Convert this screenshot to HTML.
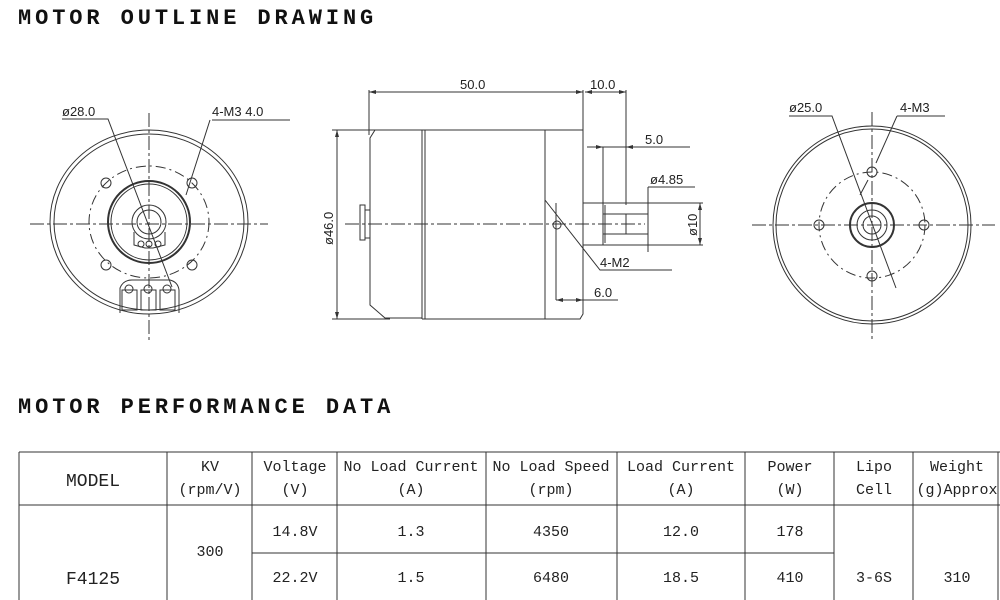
<!DOCTYPE html>
<html><head><meta charset="utf-8"><style>
body{margin:0;background:#fff;width:1000px;height:600px;overflow:hidden;}
svg{display:block}
.t{font-family:"Liberation Mono",monospace;font-weight:bold;font-size:22px;fill:#111}
.d{font-family:"Liberation Sans",sans-serif;font-size:13px;fill:#222}
.c{font-family:"Liberation Mono","Noto Serif CJK SC",monospace;font-size:15px;fill:#222;text-anchor:middle}
</style></head><body>
<svg width="1000" height="600" viewBox="0 0 1000 600" xmlns="http://www.w3.org/2000/svg">
<text class="t" x="18" y="24" letter-spacing="3.9">MOTOR OUTLINE DRAWING</text>
<text class="t" x="18" y="413" letter-spacing="3.9">MOTOR PERFORMANCE DATA</text>

<g fill="none" stroke="#333" stroke-width="1">
<ellipse cx="149" cy="222" rx="99" ry="92"/>
<ellipse cx="149" cy="222" rx="95" ry="88"/>
<ellipse cx="149" cy="222" rx="60" ry="56" stroke-dasharray="10,4,2,4"/>
<circle cx="149" cy="222" r="41" stroke-width="2"/>
<circle cx="149" cy="222" r="38"/>
<circle cx="149" cy="222" r="17"/>
<circle cx="149" cy="222" r="12"/>
<path d="M134 232 L134 245 L145 248 L153 248 L165 245 L165 232"/>
<circle cx="141" cy="244" r="3"/><circle cx="158" cy="244" r="3"/><circle cx="149" cy="244" r="3"/>
<circle cx="106" cy="183" r="5"/><circle cx="192" cy="183" r="5"/>
<circle cx="106" cy="265" r="5"/><circle cx="192" cy="265" r="5"/>
<path d="M120 313 L120 288 Q123 280 132 280 L170 280 Q178 282 179 290 L179 313"/>
<rect x="122" y="290" width="15" height="20"/><rect x="141" y="290" width="15" height="20"/><rect x="160" y="290" width="15" height="20"/>
<circle cx="129" cy="289" r="4"/><circle cx="148" cy="289" r="4"/><circle cx="167" cy="289" r="4"/>
<path d="M30 224 H268 M149 113 V342" stroke-dasharray="14,3,3,3"/>
<path d="M62 119 H108 L172 287"/>
<path d="M212 120 H290 M210 120 L186 195"/>

<path d="M332 130 H400 M332 319 H390"/>
<path d="M337 130 V319"/>
<path d="M369 90 V135 M583 90 V130 M626 90 V205"/>
<path d="M369 92 H583 M585 92 H626"/>
<path d="M375 130 H583 V314 L580 319 H422 M375 130 L370 138 V305 L385 318 H422"/>
<path d="M422 130 V319 M425 130 V319 M545 130 V319"/>
<path d="M360 205 H365 V240 H360 Z M365 210 H370 V238 H365"/>
<path d="M583 203 H603 V245 H583"/>
<path d="M603 203 H648 V245 H603 M605 205 V243 M626 214 V234 M603 214 H648 M603 234 H648"/>
<path d="M587 147 H690 M603 147 V203"/>
<path d="M648 187 H695 M648 187 V252"/>
<path d="M648 203 H703 M648 245 H703 M700 203 V245"/>
<path d="M556 203 V300 M556 300 H618"/>
<path d="M545 200 L600 270 H672"/>
<path d="M345 224 H645" stroke-dasharray="14,3,3,3"/>
<circle cx="557" cy="225" r="4"/>

<circle cx="872" cy="225" r="99"/>
<circle cx="872" cy="225" r="96"/>
<circle cx="872" cy="225" r="53" stroke-dasharray="10,4,2,4"/>
<circle cx="872" cy="225" r="22" stroke-width="2"/>
<circle cx="872" cy="225" r="15"/>
<circle cx="872" cy="225" r="9"/>
<circle cx="872" cy="172" r="5"/><circle cx="872" cy="276" r="5"/>
<circle cx="819" cy="225" r="5"/><circle cx="924" cy="225" r="5"/>
<path d="M752 225 H995 M872 112 V340" stroke-dasharray="14,3,3,3"/>
<path d="M789 116 H832 L896 288"/>
<path d="M897 116 H945 M897 116 L876 163 M868 180 L860 195"/>
</g>
<g fill="#333">
<path d="M369 92 l7 -2 v4z M583 92 l-7 -2 v4z M585 92 l7 -2 v4z M626 92 l-7 -2 v4z"/>
<path d="M337 130 l-2 7 h4z M337 319 l-2 -7 h4z"/>
<path d="M603 147 l-7 -2 v4z M626 147 l7 -2 v4z"/>
<path d="M556 300 l7 -2 v4z M583 300 l-7 -2 v4z"/>
<path d="M700 203 l-2 7 h4z M700 245 l-2 -7 h4z"/>
</g>
<text class="d" x="62" y="116">ø28.0</text>
<text class="d" x="212" y="116">4-M3  4.0</text>
<text class="d" x="460" y="89">50.0</text>
<text class="d" x="590" y="89">10.0</text>
<text class="d" x="645" y="144">5.0</text>
<text class="d" x="650" y="184">ø4.85</text>
<text class="d" x="600" y="267">4-M2</text>
<text class="d" x="594" y="297">6.0</text>
<text class="d" transform="translate(333 245) rotate(-90)">ø46.0</text>
<text class="d" transform="translate(697 236) rotate(-90)">ø10</text>
<text class="d" x="789" y="112">ø25.0</text>
<text class="d" x="900" y="112">4-M3</text>

<g stroke="#333" stroke-width="1" fill="none">
<path d="M19 452 H1000 M19 505 H1000 M252 553 H834 M19 452 V600"/>
<path d="M167 452 V600 M252 452 V600 M337 452 V600 M486 452 V600 M617 452 V600 M745 452 V600 M834 452 V600 M913 452 V600 M998 452 V600"/>
</g>
<g class="c">
<text x="93" y="486" font-size="18">MODEL</text>
<text x="210" y="471">KV</text><text x="210" y="494">(rpm/V)</text>
<text x="295" y="471">Voltage</text><text x="295" y="494">(V)</text>
<text x="411" y="471">No Load Current</text><text x="411" y="494">(A)</text>
<text x="551" y="471">No Load Speed</text><text x="551" y="494">(rpm)</text>
<text x="681" y="471">Load Current</text><text x="681" y="494">(A)</text>
<text x="790" y="471">Power</text><text x="790" y="494">(W)</text>
<text x="874" y="471">Lipo</text><text x="874" y="494">Cell</text>
<text x="957" y="471">Weight</text><text x="957" y="494">(g)Approx</text>
<text x="93" y="584" font-size="18">F4125</text>
<text x="210" y="556">300</text>
<text x="295" y="536">14.8V</text><text x="411" y="536">1.3</text><text x="551" y="536">4350</text><text x="681" y="536">12.0</text><text x="790" y="536">178</text>
<text x="295" y="582">22.2V</text><text x="411" y="582">1.5</text><text x="551" y="582">6480</text><text x="681" y="582">18.5</text><text x="790" y="582">410</text>
<text x="874" y="582">3-6S</text><text x="957" y="582">310</text>
</g>
</svg>
</body></html>
